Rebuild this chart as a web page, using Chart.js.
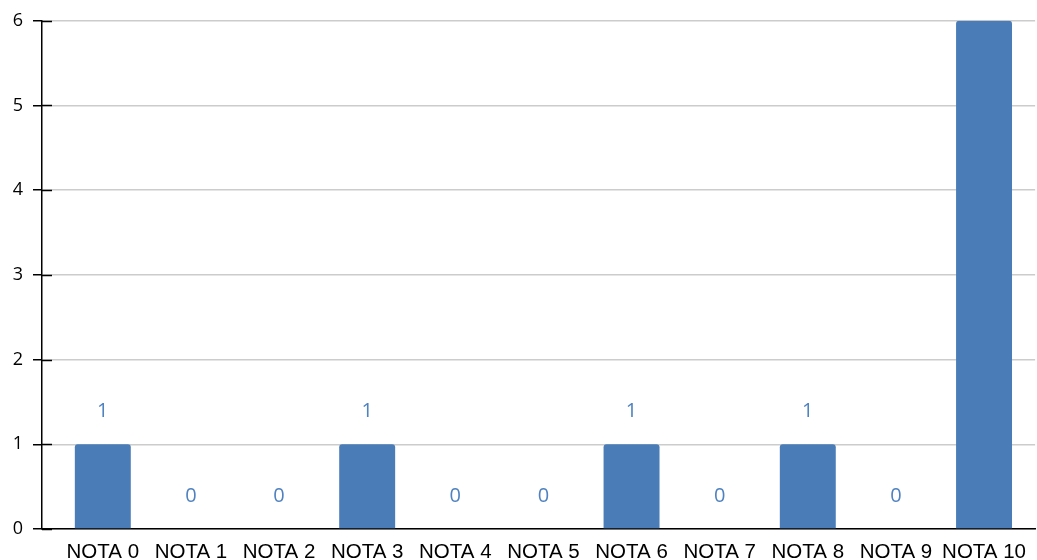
<!DOCTYPE html>
<html>
<head>
<meta charset="utf-8">
<script src="https://cdn.jsdelivr.net/npm/chart.js@4/dist/chart.umd.min.js"></script>
<style>
  html, body { margin: 0; padding: 0; background: #ffffff; }
  #wrap { width: 1037px; height: 560px; position: relative; }
</style>
</head>
<body>
<div id="wrap"><canvas id="chart"></canvas></div>
<script>
// Categories and counts per grade
const categories = ['NOTA 0', 'NOTA 1', 'NOTA 2', 'NOTA 3', 'NOTA 4', 'NOTA 5', 'NOTA 6', 'NOTA 7', 'NOTA 8', 'NOTA 9', 'NOTA 10'];
const counts = [1, 0, 0, 1, 0, 0, 1, 0, 1, 0, 6];
const yTicks = [0, 1, 2, 3, 4, 5, 6];

const barColor = '#4a7db8';
const labelColor = '#4f82bf';

// Value labels above each bar
const valueLabels = {
  id: 'valueLabels',
  afterDatasetsDraw(chart) {
    const ctx = chart.ctx;
    const meta = chart.getDatasetMeta(0);
    ctx.save();
    ctx.fillStyle = labelColor;
    ctx.font = '20px "Open Sans", "Noto Sans", sans-serif';
    ctx.textAlign = 'center';
    ctx.textBaseline = 'middle';
    meta.data.forEach((bar, i) => {
      ctx.fillText(String(counts[i]), bar.x, bar.y - 33);
    });
    ctx.restore();
  }
};

// Short black tick marks crossing the vertical axis into the plot
const crossTicks = {
  id: 'crossTicks',
  afterDraw(chart) {
    const ctx = chart.ctx;
    const y = chart.scales.y;
    const left = chart.chartArea.left;
    ctx.save();
    ctx.strokeStyle = '#000000';
    ctx.lineWidth = 1.5;
    y.ticks.forEach(t => {
      const py = Math.round(y.getPixelForValue(t.value)) + 0.5;
      ctx.beginPath();
      ctx.moveTo(left, py);
      ctx.lineTo(left + 10, py);
      ctx.stroke();
    });
    ctx.restore();
  }
};

new Chart(document.getElementById('chart'), {
  type: 'bar',
  data: {
    datasets: [{
      data: counts.map((v, i) => ({ x: i, y: v })),
      backgroundColor: barColor,
      borderRadius: 3,
      categoryPercentage: 1,
      barPercentage: 0.635
    }]
  },
  options: {
    responsive: true,
    maintainAspectRatio: false,
    animation: false,
    layout: { padding: { top: 20, right: 0, bottom: 0, left: 0 } },
    plugins: { legend: { display: false }, tooltip: { enabled: false } },
    scales: {
      x: {
        type: 'linear',
        offset: false,
        min: -0.69,
        max: 10.58,
        grid: { display: false, drawTicks: false },
        border: { display: true, color: '#000000', width: 1.5 },
        ticks: {
          stepSize: 1,
          includeBounds: false,
          autoSkip: false,
          maxRotation: 0,
          padding: 11,
          color: '#000000',
          font: { family: '"Liberation Sans", Arial, sans-serif', size: 20.5 },
          callback: v => categories[v]
        },
        afterFit: s => { s.height = 31; }
      },
      y: {
        min: 0,
        max: 6,
        afterBuildTicks: s => { s.ticks = yTicks.map(v => ({ value: v })); },
        grid: { color: '#cccccc', lineWidth: 1.5, tickLength: 9, tickColor: '#000000' },
        border: { display: true, color: '#000000', width: 1.5 },
        ticks: {
          padding: 10,
          color: '#000000',
          font: { family: '"Open Sans", "Noto Sans", sans-serif', size: 18 }
        },
        afterFit: s => { s.width = 42; }
      }
    }
  },
  plugins: [valueLabels, crossTicks]
});
</script>
</body>
</html>
